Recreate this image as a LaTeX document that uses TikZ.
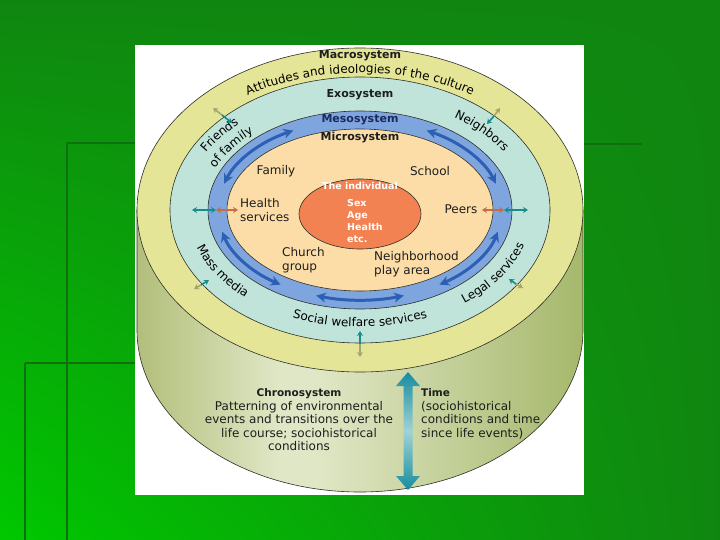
\documentclass[tikz,border=0pt]{standalone}
\usepackage{fontspec}
\setmainfont{DejaVu Sans}
\usepackage{tikz}
\usetikzlibrary{arrows.meta,decorations.text,shadings}

\definecolor{bgdark}{RGB}{16,134,16}
\definecolor{bgbright}{RGB}{0,200,0}
\definecolor{bgline}{RGB}{14,112,14}
\definecolor{macroc}{RGB}{228,229,150}
\definecolor{exoc}{RGB}{192,228,218}
\definecolor{mesoc}{RGB}{126,165,222}
\definecolor{microc}{RGB}{252,221,168}
\definecolor{indivc}{RGB}{242,130,82}
\definecolor{cylA}{RGB}{178,190,122}
\definecolor{cylC}{RGB}{224,231,198}
\definecolor{cylD}{RGB}{166,184,108}
\definecolor{ringline}{RGB}{45,48,40}
\definecolor{mesoarr}{RGB}{45,95,180}
\definecolor{mesotxt}{RGB}{27,42,94}
\definecolor{tealc}{RGB}{24,140,140}
\definecolor{brownc}{RGB}{196,110,72}
\definecolor{khakic}{RGB}{165,165,112}
\definecolor{timec}{RGB}{22,140,160}
\definecolor{timelight}{RGB}{160,210,214}
\definecolor{txt}{RGB}{30,30,30}

\pgfdeclarehorizontalshading{cylside}{100bp}{color(0bp)=(cylA); color(25bp)=(cylA); color(41bp)=(cylC); color(45bp)=(cylC); color(75bp)=(cylD); color(100bp)=(cylD)}

\newcommand{\lblfont}{\fontsize{12}{13.5}\selectfont}

\tikzstyle{ring} = [draw=ringline, line width=0.6pt]
\tikzstyle{syslabel} = [font=\bfseries\fontsize{11}{13}\selectfont, text=txt, inner sep=0pt]
\tikzstyle{lbl} = [font=\lblfont, text=txt, inner sep=0pt, align=left]
\tikzstyle{inlbl} = [font=\bfseries\fontsize{9.5}{12}\selectfont, text=white, inner sep=0pt]
\tikzstyle{mesoarrow} = [{Stealth[length=10pt,width=10pt]}-{Stealth[length=10pt,width=10pt]}, line width=3pt, draw=mesoarr]
\tikzstyle{link} = [{Stealth[length=5pt,width=6pt]}-{Stealth[length=5pt,width=6pt]}, line width=1.6pt]
\tikzstyle{halflink} = [-{Stealth[length=5pt,width=6pt]}, line width=1.6pt]
\tikzstyle{arctext} = [decorate, decoration={text along path, text align=center}]

\begin{document}
\begin{tikzpicture}[x=1pt,y=-1pt]
  \useasboundingbox (0,0) rectangle (720,540);
  \shade[upper left=bgdark, upper right=bgdark, lower left=bgbright, lower right=bgdark] (0,0) rectangle (720,540);
  \draw[bgline, line width=2pt] (67,143) -- (67,540) (67,143) -- (135,143) (584,144) -- (642,144)
    (25,363) -- (25,540) (25,363) -- (135,363);
  \fill[white] (135,45) rectangle (584,495);

  \coordinate (c) at (360,210);
  \shadedraw[shading=cylside, ring] (137,210) -- (137,330)
    arc[start angle=180, end angle=0, x radius=223, y radius=162] -- (583,210);
  \filldraw[ring, fill=macroc] (c) ellipse[x radius=223, y radius=162];
  \filldraw[ring, fill=exoc] (c) ellipse[x radius=190, y radius=133];
  \filldraw[ring, fill=mesoc] (c) ellipse[x radius=152, y radius=99];
  \filldraw[ring, fill=microc] (c) ellipse[x radius=133, y radius=81];
  \filldraw[ring, fill=indivc] (360,214) ellipse[x radius=61, y radius=35];

  \draw[mesoarrow] ([shift={(197:142 and 90)}]c) arc[start angle=197, end angle=242, x radius=142, y radius=90];
  \draw[mesoarrow] ([shift={(298:142 and 90)}]c) arc[start angle=298, end angle=343, x radius=142, y radius=90];
  \draw[mesoarrow] ([shift={(166:142 and 90)}]c) arc[start angle=166, end angle=124, x radius=142, y radius=90];
  \draw[mesoarrow] ([shift={(108:142 and 90)}]c) arc[start angle=108, end angle=72, x radius=142, y radius=90];
  \draw[mesoarrow] ([shift={(56:142 and 90)}]c) arc[start angle=56, end angle=14, x radius=142, y radius=90];

  \node[syslabel] (macro) at (360,56) {Macrosystem};
  \node[syslabel] (exo) at (360,95) {Exosystem};
  \node[syslabel, text=mesotxt] (meso) at (360,120) {Mesosystem};
  \node[syslabel] (micro) at (360,138) {Microsystem};
  \node[inlbl] (indiv) at (360,186) {The individual};
  \node[inlbl, align=left, anchor=west] (traits) at (347,221) {Sex\\Age\\Health\\etc.};

  \node[lbl] (family) at (276,171) {Family};
  \node[lbl] (school) at (430,171) {School};
  \node[lbl, anchor=west] (health) at (240,210) {Health\\services};
  \node[lbl] (peers) at (461,209) {Peers};
  \node[lbl, anchor=west] (church) at (282,260) {Church\\group};
  \node[lbl, anchor=west] (nbhd) at (374,264) {Neighborhood\\play area};

  \path[arctext, decoration={text={|\lblfont|Attitudes and ideologies of the culture}}]
    ([shift={(205:205 and 137)}]c) arc[start angle=205, end angle=335, x radius=205, y radius=137];
  \path[arctext, decoration={text={|\lblfont|Social welfare services}}]
    ([shift={(130:170 and 117)}]c) arc[start angle=130, end angle=50, x radius=170, y radius=117];
  \path[arctext, decoration={text={|\lblfont|Friends}}]
    ([shift={(191:176 and 118)}]c) arc[start angle=191, end angle=241, x radius=176, y radius=118];
  \path[arctext, decoration={text={|\lblfont|of family}}]
    ([shift={(189:158 and 104)}]c) arc[start angle=189, end angle=239, x radius=158, y radius=104];
  \path[arctext, decoration={text={|\lblfont|Neighbors}}]
    ([shift={(293:168 and 112)}]c) arc[start angle=293, end angle=343, x radius=168, y radius=112];
  \path[arctext, decoration={text={|\lblfont|Mass media}}]
    ([shift={(173:172 and 118)}]c) arc[start angle=173, end angle=123, x radius=172, y radius=118];
  \path[arctext, decoration={text={|\lblfont|Legal services}}]
    ([shift={(59:172 and 118)}]c) arc[start angle=59, end angle=9, x radius=172, y radius=118];

  \coordinate (hl1) at (192,210);
  \coordinate (hl2) at (216,210);
  \coordinate (hl3) at (238,210);
  \coordinate (pr1) at (482,210);
  \coordinate (pr2) at (504,210);
  \coordinate (pr3) at (528,210);
  \draw[link, tealc] (hl1) -- (hl2);
  \draw[link, brownc] (hl2) -- (hl3);
  \draw[link, brownc] (pr1) -- (pr2);
  \draw[link, tealc] (pr2) -- (pr3);

  \coordinate (fr1) at (213,108);
  \coordinate (fr2) at (222,115);
  \coordinate (fr3) at (232,123);
  \coordinate (nb1) at (500,108);
  \coordinate (nb2) at (494,116);
  \coordinate (nb3) at (487,124);
  \coordinate (mm1) at (194,289);
  \coordinate (mm2) at (201,285);
  \coordinate (mm3) at (209,280);
  \coordinate (ls1) at (523,288);
  \coordinate (ls2) at (516,284);
  \coordinate (ls3) at (509,279);
  \coordinate (sw1) at (360,357);
  \coordinate (sw2) at (360,344);
  \coordinate (sw3) at (360,331);
  \draw[halflink, khakic] (fr2) -- (fr1);
  \draw[halflink, tealc] (fr2) -- (fr3);
  \draw[halflink, khakic] (nb2) -- (nb1);
  \draw[halflink, tealc] (nb2) -- (nb3);
  \draw[halflink, khakic] (mm2) -- (mm1);
  \draw[halflink, tealc] (mm2) -- (mm3);
  \draw[halflink, khakic] (ls2) -- (ls1);
  \draw[halflink, tealc] (ls2) -- (ls3);
  \draw[halflink, khakic] (sw2) -- (sw1);
  \draw[halflink, tealc] (sw2) -- (sw3);

  \coordinate (tt) at (408,372);
  \coordinate (tb) at (408,490);
  \shade[top color=timec, bottom color=timec, middle color=timelight]
    (tt) -- ++(12,14) -- ++(-7.5,0) -- ([shift={(4.5,-14)}]tb) -- ++(7.5,0) -- (tb)
    -- ++(-12,-14) -- ++(7.5,0) -- ([shift={(-4.5,14)}]tt) -- ++(-7.5,0) -- cycle;

  \node[lbl, align=center] (chrono) at (299,420)
    {{\bfseries\fontsize{10.5}{13.5}\selectfont Chronosystem}\\Patterning of environmental\\events and transitions over the\\life course; sociohistorical\\conditions};
  \node[lbl, anchor=west] (time) at (421,414)
    {{\bfseries\fontsize{10.5}{13.5}\selectfont Time}\\(sociohistorical\\conditions and time\\since life events)};
\end{tikzpicture}
\end{document}
